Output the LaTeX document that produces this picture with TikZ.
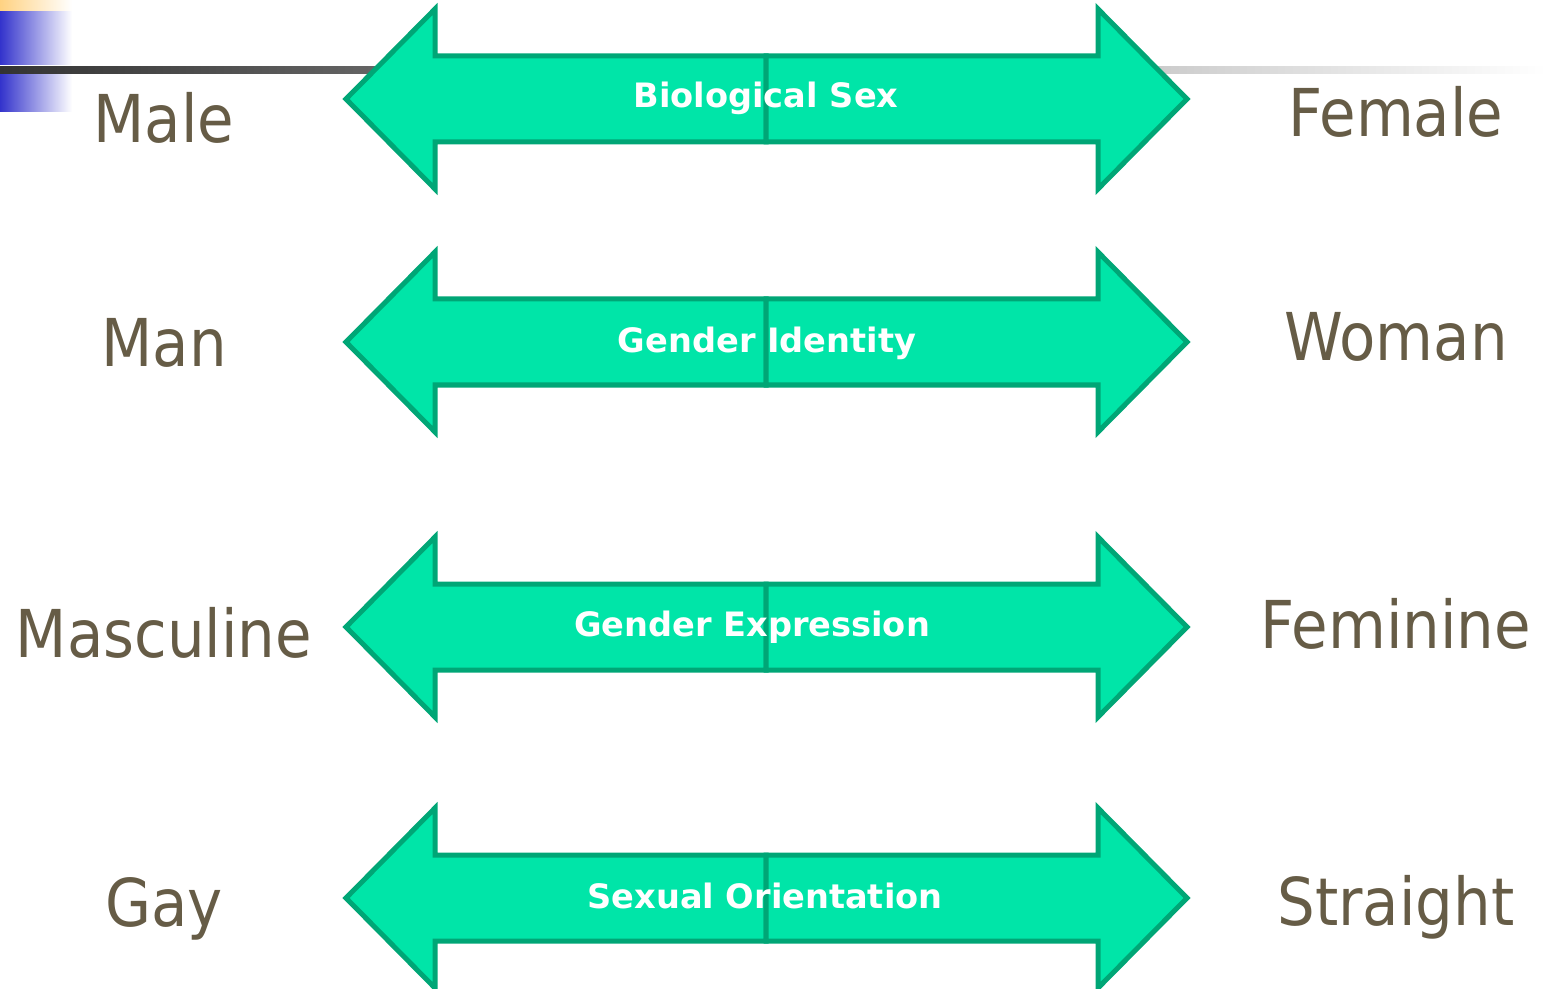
\documentclass[tikz,border=0pt]{standalone}
\usepackage{fontspec}
\setmainfont{DejaVu Sans}
\newfontfamily\sidefont{DejaVu Sans}[FakeStretch=0.9]
\usetikzlibrary{positioning}

\definecolor{barfill}{RGB}{0,229,168}
\definecolor{barline}{RGB}{0,166,118}
\definecolor{sidetext}{RGB}{102,92,70}
\definecolor{deco}{RGB}{51,51,204}
\definecolor{decotop}{RGB}{255,210,130}

\tikzset{
  halfbar/.style={fill=barfill, draw=barline, line width=2.5pt, line join=miter},
  midtext/.style={anchor=base, text=white, font=\bfseries\fontsize{16.8}{18}\selectfont},
  sidelabel/.style={anchor=base, text=sidetext, font=\sidefont\fontsize{33}{40}\selectfont}
}

\begin{document}
\begin{tikzpicture}[x=0.5pt,y=-0.5pt]
\useasboundingbox (0,0) rectangle (1546,989);

% corner decoration
\shade[left color=decotop, right color=white] (0,0) rectangle (72,12);
\shade[left color=deco, right color=white] (0,12) rectangle (72,65);
\shade[left color=deco, right color=white] (0,74) rectangle (72,112);
\shade[left color=black!80, right color=white] (0,67) rectangle (1546,74);

% one row per scale: centre y / left / right / text / baselines / text x
\foreach \c/\lt/\rt/\mt/\lb/\rb/\mb/\mx [count=\i] in {
  99/Male/Female/Biological Sex/143/137/108/766,
  342/Man/Woman/Gender Identity/366/361/352/767,
  627/Masculine/Feminine/Gender Expression/657/648/636/752,
  898/Gay/Straight/Sexual Orientation/926/925/908/765} {
  \coordinate (mid\i) at (766,\c);
  \draw[halfbar] (766,\c-43) -- (435,\c-43) -- (435,\c-90) -- (346,\c)
    -- (435,\c+90) -- (435,\c+43) -- (766,\c+43) -- cycle;
  \draw[halfbar] (766,\c-43) -- (1098,\c-43) -- (1098,\c-90) -- (1187,\c)
    -- (1098,\c+90) -- (1098,\c+43) -- (766,\c+43) -- cycle;
  \node[midtext] (name\i) at (\mx,\mb) {\mt};
  \node[sidelabel] (left\i) at (164,\lb) {\lt};
  \node[sidelabel] (right\i) at (1396,\rb) {\rt};
}
\end{tikzpicture}
\end{document}
